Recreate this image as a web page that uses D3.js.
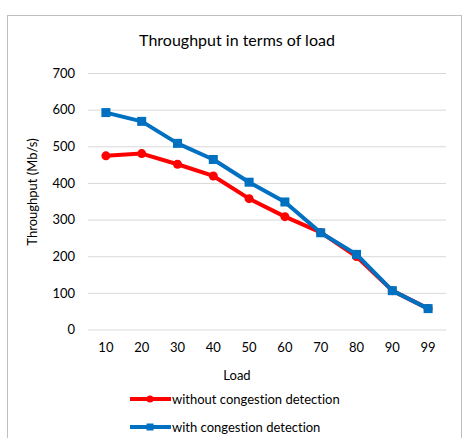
<!DOCTYPE html>
<html><head><meta charset="utf-8">
<script src="https://cdn.jsdelivr.net/npm/d3@7"></script>
<style>body{margin:0;background:#fff}svg{display:block}text{font-family:Lato,"Open Sans",sans-serif;font-variant-ligatures:none;font-feature-settings:"liga" 0}</style>
</head><body>
<script>
const categories = ["10","20","30","40","50","60","70","80","90","99"];
const withoutCD = [474, 480, 451, 419, 357, 308, 265, 199, 106, 57];
const withCD = [592, 568, 508, 464, 402, 348, 264, 205, 106, 57];
const yTicks = [0,100,200,300,400,500,600,700];
const seriesNames = ["without congestion detection","with congestion detection"];

const W=464,H=438;
const svg=d3.select("body").append("svg").attr("width",W).attr("height",H);
svg.append("rect").attr("x",7.5).attr("y",15.5).attr("width",454).attr("height",440)
  .attr("fill","#fff").attr("stroke","#bfbfbf");

const x=d3.scaleBand().domain(categories).range([88,446]);
const y=d3.scaleLinear().domain([0,700]).range([329.5,73]);

svg.append("text").attr("x",237).attr("y",46).attr("text-anchor","middle")
  .attr("font-size",16).attr("fill","#000").text("Throughput in terms of load");

const ya=svg.append("g").attr("transform","translate(88,0)")
  .call(d3.axisLeft(y).tickValues(yTicks).tickSize(-358).tickPadding(13));
ya.select(".domain").remove();
ya.selectAll("line").attr("stroke","#d9d9d9");
ya.selectAll("text").attr("font-size",13).attr("fill","#000");

const xa=svg.append("g").attr("transform","translate(0,329.5)")
  .call(d3.axisBottom(x).tickSize(0).tickPadding(13));
xa.select(".domain").remove();
xa.selectAll("text").attr("font-size",13).attr("fill","#000");

svg.append("text").attr("x",237).attr("y",380).attr("text-anchor","middle")
  .attr("font-size",13).attr("fill","#000").text("Load");
svg.append("text").attr("transform","translate(37,192) rotate(-90)").attr("text-anchor","middle")
  .attr("font-size",13).attr("fill","#000").text("Throughput (Mb/s)");

const cx=d=>x(d)+x.bandwidth()/2;
const line=d3.line().x((d,i)=>cx(categories[i])).y(d=>y(d));
const colors=["#ff0000","#0070c0"];

svg.append("path").datum(withoutCD).attr("d",line).attr("fill","none")
  .attr("stroke",colors[0]).attr("stroke-width",4).attr("stroke-linejoin","round");
svg.selectAll(".c").data(withoutCD).enter().append("circle")
  .attr("cx",(d,i)=>cx(categories[i])).attr("cy",d=>y(d)).attr("r",4.5).attr("fill",colors[0]);

svg.append("path").datum(withCD).attr("d",line).attr("fill","none")
  .attr("stroke",colors[1]).attr("stroke-width",4).attr("stroke-linejoin","round");
svg.selectAll(".s").data(withCD).enter().append("rect")
  .attr("x",(d,i)=>cx(categories[i])-4.5).attr("y",d=>y(d)-4.5).attr("width",9).attr("height",9).attr("fill",colors[1]);

const leg=[{n:seriesNames[0],c:colors[0],m:"circle",yy:399},{n:seriesNames[1],c:colors[1],m:"rect",yy:427}];
leg.forEach(l=>{
  svg.append("line").attr("x1",130).attr("x2",171).attr("y1",l.yy).attr("y2",l.yy)
    .attr("stroke",l.c).attr("stroke-width",4);
  if(l.m==="circle") svg.append("circle").attr("cx",150).attr("cy",l.yy).attr("r",3.5).attr("fill",l.c);
  else svg.append("rect").attr("x",146.5).attr("y",l.yy-3.5).attr("width",7).attr("height",7).attr("fill",l.c);
  svg.append("text").attr("x",172).attr("y",l.yy+4.5).attr("font-size",13).attr("fill","#000").text(l.n);
});
</script>
</body></html>
